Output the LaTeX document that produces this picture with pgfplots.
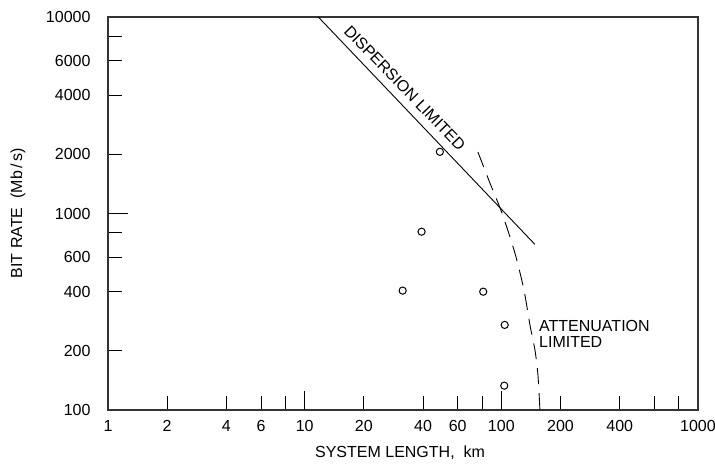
\documentclass[border=0pt]{standalone}
\usepackage{fontspec}
\setmainfont{Liberation Sans}
\usepackage{pgfplots}
\pgfplotsset{compat=1.18}
\begin{document}
\fontsize{16}{17}\selectfont
\begin{tikzpicture}
\begin{axis}[
 xmode=log, ymode=log,
 scale only axis, width=590pt, height=393pt,
 xmin=1,xmax=1000,ymin=100,ymax=10000,
 xtick={1,2,4,6,8,10,20,40,60,80,100,200,400,600,800,1000},
 xticklabels={1,2,4,6,,10,20,40,60,,100,200,400,,,1000},
 ytick={100,200,400,600,800,1000,2000,4000,6000,8000,10000},
 yticklabels={100,200,400,600,,1000,2000,4000,6000,,10000},
 minor xtick={}, minor ytick={},
 tick align=inside, xtick pos=bottom, ytick pos=left,
 major tick length=14pt,
 tick style={black, line width=0.9pt},
 axis line style={line width=1.3pt, black!80},
 /pgf/number format/assume math mode=true,
 ticklabel style={font=\fontsize{16}{17}\selectfont},
 yticklabel style={xshift=-12pt},
 xticklabel style={yshift=-5pt},
 extra x ticks={10,100}, extra x tick labels={}, extra x tick style={major tick length=19pt},
 extra y ticks={1000}, extra y tick labels={}, extra y tick style={major tick length=20pt},
 xlabel={SYSTEM LENGTH,\ \ km},
 xlabel style={at={(axis description cs:0.495,-0.109)},anchor=center},
 ylabel={BIT RATE\ \ (Mb\,/\,s)},
 ylabel style={at={(axis description cs:-0.1525,0.501)},anchor=center},
 clip=true,
]
\addplot[black, line width=0.9pt] coordinates {(11.73,10000) (148,697)};
\addplot[black, line width=0.9pt, dash pattern=on 16pt off 9pt, smooth] coordinates {(76,2056) (87.5,1430) (100.7,1006) (117.2,630) (130.3,408) (139.8,271) (148.2,202) (153.5,151) (157.1,100)};
\addplot[only marks, mark=o, mark size=3.6pt, black, mark options={line width=1pt}] coordinates {(48.7,2060) (39.3,808) (31.5,405) (80.9,400) (104,271) (103.5,133)};
\node[rotate=-46] at (axis cs:32.3,4352) {DISPERSION LIMITED};
\node[anchor=west, align=left, inner sep=0pt, font=\fontsize{16}{16.5}\selectfont] at (axis cs:155.4,243.7) {ATTENUATION\\LIMITED};
\end{axis}
\pgfresetboundingbox
\path[use as bounding box] ([xshift=-108pt,yshift=-59pt]current axis.south west) rectangle ([xshift=17pt,yshift=17pt]current axis.north east);
\end{tikzpicture}
\end{document}
